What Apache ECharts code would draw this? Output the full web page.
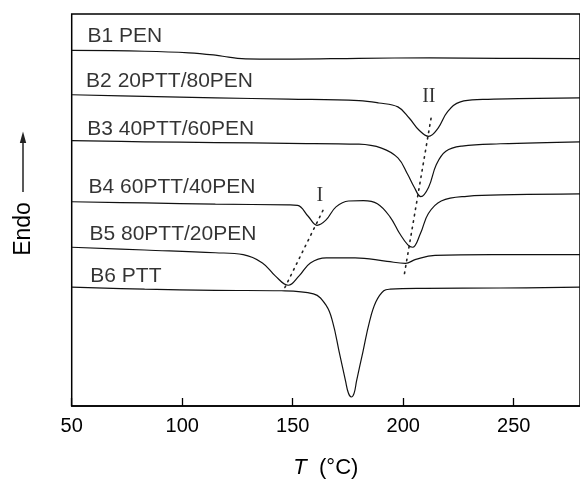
<!DOCTYPE html>
<html><head><meta charset="utf-8">
<script src="https://cdn.jsdelivr.net/npm/echarts@6/dist/echarts.min.js"></script>
<style>html,body{margin:0;padding:0;background:#fff}#c{width:580px;height:484px}</style>
</head><body><div id="c"></div>
<script>
// Temperature (°C) and offset heat-flow values (arbitrary units, endo up)
const tB1 = [50, 83, 103, 115, 121, 127, 135, 150, 180, 212, 244, 280];
const vB1 = [90.7, 90.5, 90.1, 89.5, 89.0, 88.6, 88.5, 88.5, 88.7, 88.8, 88.7, 88.6];

const tB2 = [50, 83, 115, 148, 180, 189, 197.6, 202.8, 207.1, 211.5, 215.8, 220.1, 225.9, 236, 252, 280];
const vB2 = [79.4, 79.0, 78.6, 78.3, 77.9, 77.3, 76.3, 73.4, 70.4, 68.8, 70.9, 75.1, 77.6, 78.2, 78.4, 78.6];

const tB3 = [50, 83, 115, 148, 180, 190.2, 197.6, 202, 205, 208, 211.5, 215, 219.3, 226.6, 244, 280];
const vB3 = [67.7, 67.4, 67.2, 67.0, 66.8, 65.8, 63.3, 59.1, 55.8, 53.4, 55.8, 61.6, 65.0, 66.3, 66.9, 67.4];

const tB4 = [50, 83, 115, 148, 152.2, 157, 161, 165, 169.6, 175.3, 182, 188.3, 194.1, 198.4, 202.1, 204.2, 207.8, 211.4, 217.2, 228.8, 250, 280];
const vB4 = [52.1, 51.8, 51.5, 51.3, 51.2, 48.4, 46.1, 47.4, 50.8, 52.3, 52.4, 51.6, 48.2, 44.0, 41.1, 40.5, 44.0, 49.1, 52.3, 53.5, 53.9, 54.1];

const tB5 = [50, 83, 115, 127.6, 136.3, 142.1, 148, 152.9, 158, 165.2, 178.2, 192.7, 201, 205.7, 214.4, 240, 280];
const vB5 = [40.5, 39.8, 39.1, 38.6, 36.5, 33.2, 30.8, 33.2, 36.5, 37.8, 37.8, 36.9, 36.4, 37.4, 38.4, 38.6, 38.6];

const tB6 = [50, 83, 115, 145, 159.4, 165.2, 168.1, 171, 173.9, 175.2, 176.5, 177.8, 178.9, 181.8, 184.7, 187.6, 191.2, 194.1, 210, 244, 280];
const vB6 = [30.3, 29.8, 29.5, 29.4, 28.6, 25.6, 21.4, 13.9, 6.4, 3.3, 2.3, 3.3, 6.4, 13.9, 21.4, 26.5, 29.4, 29.8, 30.0, 30.1, 30.3];

// Dotted guide lines through peaks I and II
const tGuideI = [163.7, 146.1];
const vGuideI = [49.9, 29.8];
const tGuideII = [212.6, 200.4];
const vGuideII = [73.4, 33.2];

// Curve labels
const labelNames = ['B1 PEN', 'B2 20PTT/80PEN', 'B3 40PTT/60PEN', 'B4 60PTT/40PEN', 'B5 80PTT/20PEN', 'B6 PTT'];
const labelT = [57.1, 56.5, 57.0, 57.6, 58.0, 58.4];
const labelV = [94.3, 82.8, 70.6, 55.8, 43.9, 33.2];

const peakNames = ['I', 'II'];
const peakT = [162.3, 211.6];
const peakV = [53.7, 78.8];

const xTicks = [50, 100, 150, 200, 250];

const zip = (t, v) => t.map((x, i) => [x, v[i]]);
const curves = [[tB1, vB1], [tB2, vB2], [tB3, vB3], [tB4, vB4], [tB5, vB5], [tB6, vB6]];

const chart = echarts.init(document.getElementById('c'), null, {renderer: 'canvas'});
const series = curves.map(([t, v]) => ({
  type: 'line', data: zip(t, v), symbol: 'none', smooth: 0.4,
  lineStyle: {color: '#111', width: 1.2}, silent: true, z: 3
}));
[[tGuideI, vGuideI], [tGuideII, vGuideII]].forEach(([t, v]) => series.push({
  type: 'line', data: zip(t, v), symbol: 'none',
  lineStyle: {color: '#222', width: 1.6, type: [1.5, 5], cap: 'round'}, silent: true, z: 2
}));
series.push({
  type: 'scatter', symbolSize: 0.1, itemStyle: {color: 'rgba(0,0,0,0)'}, silent: true,
  data: labelNames.map((n, i) => ({name: n, value: [labelT[i], labelV[i]]})),
  label: {show: true, position: 'right', distance: 0, formatter: '{b}', color: '#000',
    fontFamily: 'Liberation Sans', fontSize: 21}
});
series.push({
  type: 'scatter', symbolSize: 0.1, itemStyle: {color: 'rgba(0,0,0,0)'}, silent: true,
  data: peakNames.map((n, i) => ({name: n, value: [peakT[i], peakV[i]]})),
  label: {show: true, position: 'inside', formatter: '{b}', color: '#000',
    fontFamily: 'Liberation Serif', fontSize: 20}
});

chart.setOption({
  animation: false,
  backgroundColor: '#fff',
  grid: {left: 71.7, top: 14, bottom: 72, right: -20.7, show: true, borderColor: '#000', borderWidth: 1.5},
  xAxis: {
    type: 'value', min: 50, max: 280, interval: 50,
    axisLine: {show: true, lineStyle: {color: '#000', width: 1.5}},
    axisTick: {show: true, inside: true, length: 8, lineStyle: {color: '#000', width: 1.3}},
    axisLabel: {show: true, showMaxLabel: false, margin: 10, color: '#000', fontFamily: 'Liberation Sans', fontSize: 20,
      formatter: v => xTicks.includes(v) ? String(v) : ''},
    splitLine: {show: false},
    name: '{i|T}  (°C)', nameLocation: 'middle', nameGap: 51,
    nameTextStyle: {color: '#000', fontFamily: 'Liberation Sans', fontSize: 22,
      rich: {i: {fontStyle: 'italic', fontFamily: 'Liberation Sans', fontSize: 22, color: '#000'}}}
  },
  yAxis: {
    type: 'value', min: 0, max: 100,
    axisLine: {show: false}, axisTick: {show: false}, axisLabel: {show: false}, splitLine: {show: false}
  },
  graphic: [
    {type: 'text', x: 24, y: 229, rotation: Math.PI / 2,
      style: {text: 'Endo', font: '23px "Liberation Sans"', fill: '#000', textAlign: 'center', textVerticalAlign: 'middle'}},
    {type: 'line', shape: {x1: 23, y1: 192, x2: 23, y2: 140}, style: {stroke: '#222', lineWidth: 1.5}},
    {type: 'polygon', shape: {points: [[23, 131.5], [19.8, 143], [26.2, 143]]}, style: {fill: '#222'}}
  ],
  series: series
});
</script>
</body></html>
